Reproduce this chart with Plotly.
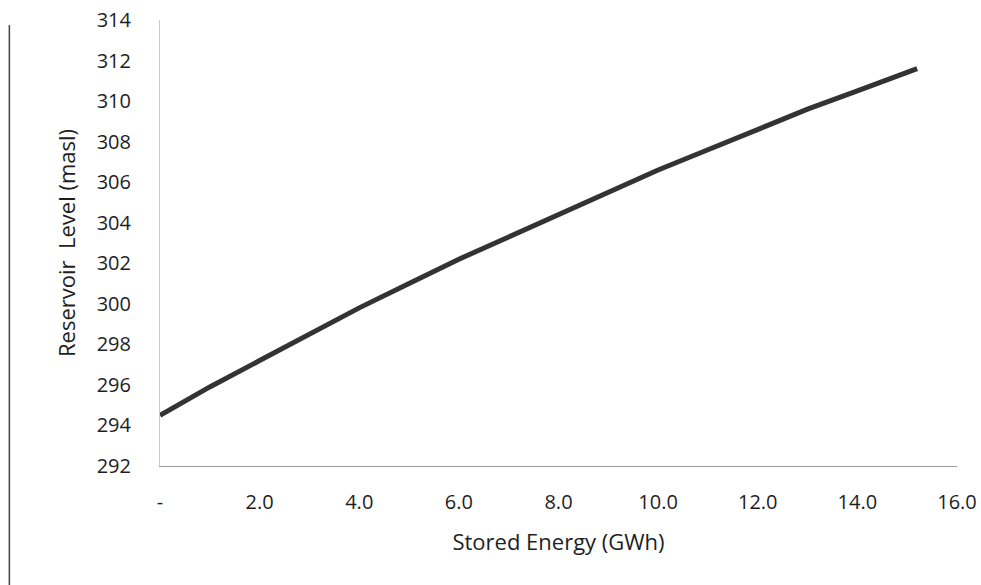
import plotly.graph_objects as go

# Reservoir level vs stored energy
stored_energy = [0.0, 1.0, 2.0, 3.0, 4.0, 5.0, 6.0, 7.0, 8.0, 9.0, 10.0, 11.0, 12.0, 13.0, 14.0, 15.2]
reservoir_level = [294.5, 295.9, 297.2, 298.5, 299.8, 301.0, 302.2, 303.3, 304.4, 305.5,
                   306.6, 307.6, 308.6, 309.6, 310.5, 311.6]

x_tickvals = [0, 2, 4, 6, 8, 10, 12, 14, 16]
x_ticktext = ["-", "2.0", "4.0", "6.0", "8.0", "10.0", "12.0", "14.0", "16.0"]
y_tickvals = list(range(292, 315, 2))

font_family = "'Open Sans', Lato, sans-serif"

fig = go.Figure()
fig.add_trace(go.Scatter(
    x=stored_energy, y=reservoir_level, mode="lines",
    line=dict(color="#333333", width=5),
    showlegend=False, hoverinfo="x+y",
))

fig.update_layout(
    width=981, height=585,
    margin=dict(l=160, r=24, t=20, b=119, autoexpand=False),
    paper_bgcolor="white", plot_bgcolor="white",
    font=dict(family=font_family, size=20, color="#1e1e1e"),
    xaxis=dict(
        range=[0, 16], tickvals=x_tickvals, ticktext=x_ticktext,
        showgrid=False, zeroline=False, showline=True, automargin=False,
        linecolor="#9a9a9a", linewidth=1, ticks="", ticklabelstandoff=18,
        tickfont=dict(size=20),
        title=dict(text="Stored Energy (GWh)", standoff=20, font=dict(size=22)),
    ),
    yaxis=dict(
        range=[292, 314], tickvals=y_tickvals,
        showgrid=False, zeroline=False, showline=True, automargin=False,
        linecolor="#c8c8c8", linewidth=1, ticks="", ticklabelstandoff=24,
        tickfont=dict(size=20),
        title=dict(text="Reservoir  Level (masl)", standoff=14, font=dict(size=22)),
    ),
    shapes=[dict(
        type="line", xref="paper", yref="paper",
        x0=-0.189, x1=-0.189, y0=0.989, y1=-0.27,
        line=dict(color="#444", width=1.5),
    )],
)

fig.write_html("out.html")
